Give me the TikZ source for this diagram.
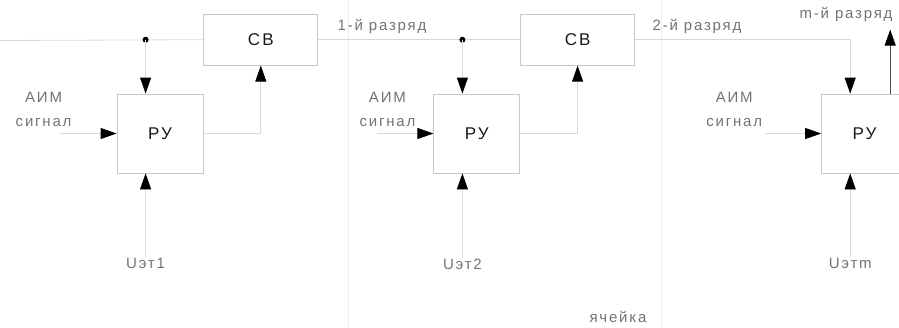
\documentclass[tikz,border=0pt]{standalone}
\usepackage{fontspec}
\setmainfont{Liberation Sans}[LetterSpace=12]
\usetikzlibrary{positioning, arrows.meta}

\begin{document}
\begin{tikzpicture}[x=1pt, y=-1pt,
        block/.style={rectangle, draw=black!22, line width=0.8pt, minimum width=86pt, minimum height=79pt, inner sep=0pt, text=black!90, font=\fontsize{17}{19}\selectfont},
        % блок СВ
        cbbox/.style={block, minimum width=114pt, minimum height=51pt},
        lbl/.style={inner sep=1pt, align=center, text=black!55, font=\fontsize{15}{24}\selectfont},
        wire/.style={draw=black!15, line width=0.8pt},
        arr/.style={wire, -{Triangle[length=16pt, width=11pt, color=black]}},
        border/.style={draw=black!7, line width=0.8pt}
    ]
        \useasboundingbox (0,0) rectangle (899,327);

        % границы ячеек
        \coordinate (g1t) at (348,0);
        \coordinate (g1b) at (348,327);
        \coordinate (g2t) at (661,0);
        \coordinate (g2b) at (661,327);
        \draw[border] (g1t) -- (g1b);
        \draw[border] (g2t) -- (g2b);

        % блоки РУ и СВ
        \node (ru1) [block] at (160,133.5) {РУ};
        \node (cb1) [cbbox, above right=28pt and 0pt of ru1.north east] {СВ};
        \node (ru2) [block, right=230pt of ru1] {РУ};
        \node (cb2) [cbbox, above right=28pt and 0pt of ru2.north east] {СВ};
        \node (ru3) [block, right=301pt of ru2] {РУ};

        % точки входа сверху
        \coordinate (x1) at ([xshift=29pt]ru1.north west);
        \coordinate (x2) at ([xshift=29pt]ru2.north west);
        \coordinate (x3) at ([xshift=29pt]ru3.north west);
        \coordinate (d1) at (x1 |- cb1.west);
        \coordinate (d2) at (x2 |- cb2.west);
        \coordinate (left) at (0,40.5);

        % верхняя линия
        \draw[wire] (left) -- (cb1.west);
        \draw[wire] (cb1.east) -- (cb2.west);
        \draw[arr] (cb2.east) -| (x3);
        \fill (d1) circle (3pt);
        \fill (d2) circle (3pt);
        \draw[arr] (d1) -- (x1);
        \draw[arr] (d2) -- (x2);

        % выходы РУ на СВ
        \draw[arr] (ru1.east) -| (cb1.south);
        \draw[arr] (ru2.east) -| (cb2.south);

        % АИМ сигнал
        \node (a1) [lbl] at ([xshift=-73pt, yshift=24pt]ru1.west) {АИМ\\сигнал};
        \node (a2) [lbl] at ([xshift=-46pt, yshift=24pt]ru2.west) {АИМ\\сигнал};
        \node (a3) [lbl] at ([xshift=-87pt, yshift=24pt]ru3.west) {АИМ\\сигнал};
        \coordinate (i1) at ([xshift=-57pt]ru1.west);
        \coordinate (i2) at ([xshift=-56pt]ru2.west);
        \coordinate (i3) at ([xshift=-56pt]ru3.west);
        \draw[arr] (i1) -- (ru1.west);
        \draw[arr] (i2) -- (ru2.west);
        \draw[arr] (i3) -- (ru3.west);

        % эталонные напряжения
        \node (u1) [lbl, below=84pt of ru1.south west, xshift=29pt] {Uэт1};
        \node (u2) [lbl, below=84pt of ru2.south west, xshift=29pt] {Uэт2};
        \node (u3) [lbl, below=84pt of ru3.south west, xshift=29pt] {Uэтm};
        \draw[arr] (u1.north) -- (u1.north |- ru1.south);
        \draw[arr] (u2.north) -- (u2.north |- ru2.south);
        \draw[arr] (u3.north) -- (u3.north |- ru3.south);

        % выход m-го разряда
        \coordinate (x4) at ([xshift=69pt]ru3.north west);
        \coordinate (mtop) at ([yshift=64pt]x4);
        \draw[arr, draw=black!70] (x4) -- (mtop);

        % подписи разрядов
        \node (r1) [lbl] at (382,26) {1-й разряд};
        \node (r2) [lbl] at (697,26) {2-й разряд};
        \node (rm) [lbl] at (846,14) {m-й разряд};
        \node (cell) [lbl] at (618,317) {ячейка};

    \end{tikzpicture}
\end{document}
